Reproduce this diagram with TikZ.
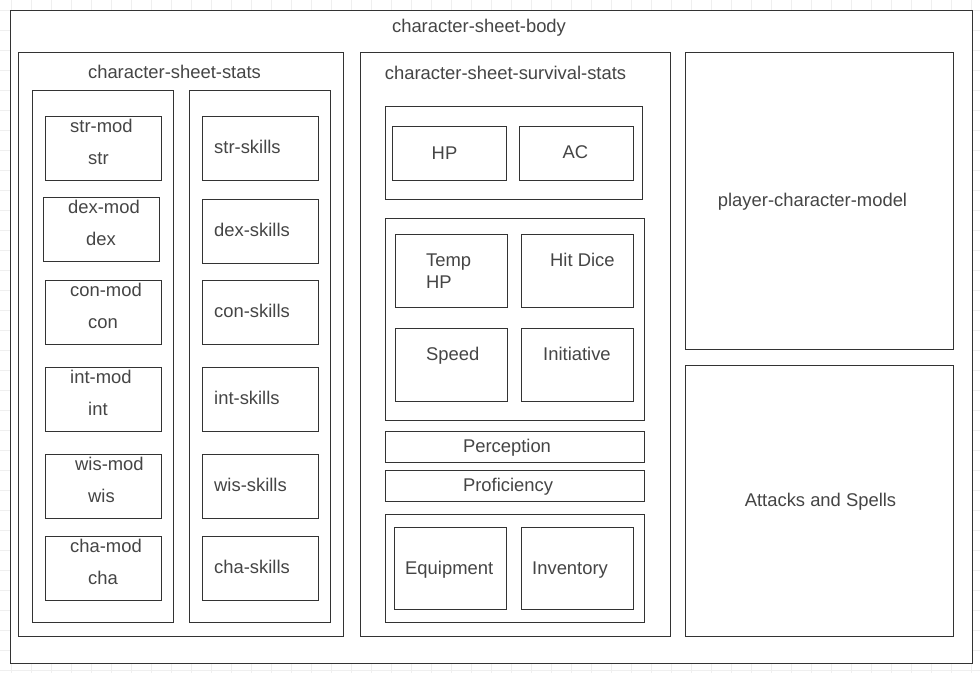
\documentclass[tikz,border=0pt]{standalone}
\usepackage{fontspec}
\setmainfont{Liberation Sans}
\usepackage{xcolor}
\definecolor{linegray}{HTML}{333333}
\definecolor{textgray}{HTML}{454545}
\definecolor{gridgray}{HTML}{EFEFEF}

\begin{document}
\begin{tikzpicture}[x=1pt, y=-1pt,
    box/.style={draw=linegray, line width=1pt, fill=white, inner sep=0pt,
                outer sep=0pt, anchor=north west},
    lbl/.style={text=textgray, font=\fontsize{18.4}{21}\selectfont,
                inner sep=0pt, anchor=base west},
    clbl/.style={lbl, anchor=base}]
  \useasboundingbox (0,0) rectangle (980,673);
  % grid
  \foreach \gx in {11.5,31.5,...,971.5}
    \draw[gridgray, line width=0.7pt] (\gx,0) -- (\gx,673);
  \foreach \gy in {10,30,...,670}
    \draw[gridgray, line width=0.7pt] (0,\gy) -- (980,\gy);

  % body
  \node[box, minimum width=962, minimum height=653] (body) at (10,10) {};
  \node[clbl] (bodytitle) at (479,32.5) {character-sheet-body};

  % stats
  \node[box, minimum width=325, minimum height=584] (stats) at (18,52) {};
  \node[clbl] (statstitle) at (174.5,78.5) {character-sheet-stats};
  \node[box, minimum width=141, minimum height=532] (modcol) at (32,90) {};
  \node[box, minimum width=141, minimum height=532] (skillcol) at (189,90) {};

  \node[box, minimum width=116, minimum height=64] (str) at (45,116) {};
  \node[lbl] (strmodtext) at (70,132.5) {str-mod};
  \node[lbl] (strtext) at (88,164.5) {str};
  \node[box, minimum width=116, minimum height=64] (dex) at (43,197) {};
  \node[lbl] (dexmodtext) at (68,213.5) {dex-mod};
  \node[lbl] (dextext) at (86,245.5) {dex};
  \node[box, minimum width=116, minimum height=64] (con) at (45,280) {};
  \node[lbl] (conmodtext) at (70,296.5) {con-mod};
  \node[lbl] (context) at (88,328.5) {con};
  \node[box, minimum width=116, minimum height=64] (int) at (45,367) {};
  \node[lbl] (intmodtext) at (70,383.5) {int-mod};
  \node[lbl] (inttext) at (88,415.5) {int};
  \node[box, minimum width=116, minimum height=64] (wis) at (45,454) {};
  \node[lbl] (wismodtext) at (75,470.5) {wis-mod};
  \node[lbl] (wistext) at (88,502.5) {wis};
  \node[box, minimum width=116, minimum height=64] (cha) at (45,536) {};
  \node[lbl] (chamodtext) at (70,552.5) {cha-mod};
  \node[lbl] (chatext) at (88,584.5) {cha};

  \node[box, minimum width=116, minimum height=64] (strskills) at (202,116) {};
  \node[lbl] at (214,153.5) {str-skills};
  \node[box, minimum width=116, minimum height=64] (dexskills) at (202,199) {};
  \node[lbl] at (214,236.5) {dex-skills};
  \node[box, minimum width=116, minimum height=64] (conskills) at (202,280) {};
  \node[lbl] at (214,317.5) {con-skills};
  \node[box, minimum width=116, minimum height=64] (intskills) at (202,367) {};
  \node[lbl] at (214,404.5) {int-skills};
  \node[box, minimum width=116, minimum height=64] (wisskills) at (202,454) {};
  \node[lbl] at (214,491.5) {wis-skills};
  \node[box, minimum width=116, minimum height=64] (chaskills) at (202,536) {};
  \node[lbl] at (214,573.5) {cha-skills};

  % survival stats
  \node[box, minimum width=310, minimum height=584] (survival) at (360,52) {};
  \node[clbl] (survivaltitle) at (505.5,79.5) {character-sheet-survival-stats};
  \node[box, minimum width=257, minimum height=93] (hpac) at (385,106) {};
  \node[box, minimum width=114, minimum height=54] (hp) at (392,126) {};
  \node[clbl] at (444.5,159.5) {HP};
  \node[box, minimum width=114, minimum height=54] (ac) at (519,126) {};
  \node[clbl] at (575.5,158.5) {AC};

  \node[box, minimum width=259, minimum height=202] (vitals) at (385,218) {};
  \node[box, minimum width=112, minimum height=73] (temphp) at (395,234) {};
  \node[lbl] at (426,266.5) {Temp};
  \node[lbl] at (426,288.5) {HP};
  \node[box, minimum width=112, minimum height=73] (hitdice) at (521,234) {};
  \node[lbl] at (550,266.5) {Hit Dice};
  \node[box, minimum width=112, minimum height=73] (speed) at (395,328) {};
  \node[lbl] at (426,360.5) {Speed};
  \node[box, minimum width=112, minimum height=73] (initiative) at (521,328) {};
  \node[lbl] at (543,360.5) {Initiative};

  \node[box, minimum width=259, minimum height=31] (perception) at (385,431) {};
  \node[clbl] at (507,452.5) {Perception};
  \node[box, minimum width=259, minimum height=31] (proficiency) at (385,470) {};
  \node[clbl] at (508,491.5) {Proficiency};

  \node[box, minimum width=259, minimum height=108] (gear) at (385,514) {};
  \node[box, minimum width=112, minimum height=82] (equipment) at (394,527) {};
  \node[lbl] at (405,574.5) {Equipment};
  \node[box, minimum width=112, minimum height=82] (inventory) at (521,527) {};
  \node[lbl] at (532,574.5) {Inventory};

  % right column
  \node[box, minimum width=268, minimum height=297] (model) at (685,52) {};
  \node[clbl] at (812.5,206.5) {player-character-model};
  \node[box, minimum width=268, minimum height=271] (attacks) at (685,365) {};
  \node[clbl] at (820.5,506.5) {Attacks and Spells};
\end{tikzpicture}
\end{document}
